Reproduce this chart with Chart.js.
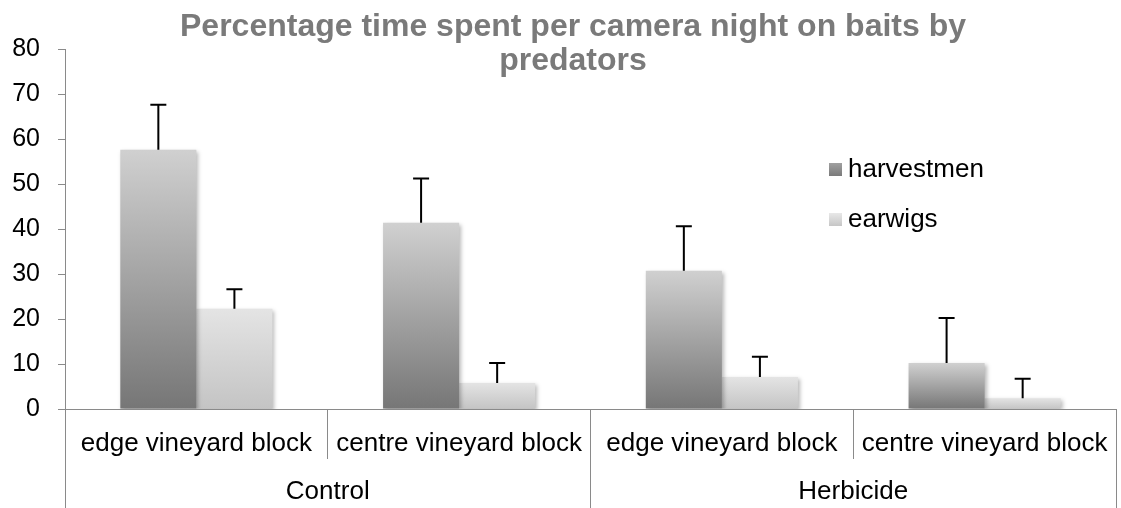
<!DOCTYPE html>
<html>
<head>
<meta charset="utf-8">
<script src="https://cdn.jsdelivr.net/npm/chart.js@4.4.1/dist/chart.umd.min.js"></script>
<style>
  html, body { margin: 0; padding: 0; background: #ffffff; }
  #wrap { width: 1121px; height: 508px; position: relative; }
</style>
</head>
<body>
<div id="wrap"><canvas id="c" width="1121" height="508"></canvas></div>
<script>
// ---- data ----
const titleLines = ['Percentage time spent per camera night on baits by', 'predators'];
const categories = ['edge vineyard block', 'centre vineyard block', 'edge vineyard block', 'centre vineyard block'];
const groups = ['Control', 'Herbicide'];
const seriesNames = ['harvestmen', 'earwigs'];
const harvestmen = [57.6, 41.4, 30.7, 10.2];
const harvestmenErr = [10.0, 9.8, 9.9, 10.0];
const earwigs = [22.3, 5.8, 7.1, 2.4];
const earwigsErr = [4.3, 4.4, 4.5, 4.3];
const yTicks = [0, 10, 20, 30, 40, 50, 60, 70, 80];

// ---- styles ----
const FONT = "'Liberation Sans', Arial, sans-serif";
const AXIS = '#8a8a8a';
const grads = [
  { light: '#d0d0d0', dark: '#767676' },
  { light: '#e4e4e4', dark: '#c4c4c4' }
];
const errs = [harvestmenErr, earwigsErr];

function barGradient(i) {
  return function (ctx) {
    const chart = ctx.chart;
    if (!chart.chartArea || ctx.type !== 'data') return grads[i].dark;
    const y = chart.scales.y;
    const top = y.getPixelForValue(ctx.raw);
    const bottom = y.getPixelForValue(0);
    const g = chart.ctx.createLinearGradient(0, top, 0, bottom);
    g.addColorStop(0, grads[i].light);
    g.addColorStop(1, grads[i].dark);
    return g;
  };
}

const shadowPlugin = {
  id: 'shadow',
  beforeDatasetsDraw(chart) {
    const c = chart.ctx;
    c.save();
    c.shadowColor = 'rgba(0,0,0,0.28)';
    c.shadowBlur = 4;
    c.shadowOffsetX = 2;
    c.shadowOffsetY = 2;
  },
  afterDatasetsDraw(chart) {
    chart.ctx.restore();
  }
};

const errorBarPlugin = {
  id: 'errorBars',
  afterDatasetsDraw(chart) {
    const c = chart.ctx;
    const y = chart.scales.y;
    c.save();
    c.strokeStyle = '#000000';
    c.lineWidth = 2;
    chart.data.datasets.forEach((ds, i) => {
      const meta = chart.getDatasetMeta(i);
      meta.data.forEach((bar, j) => {
        const v = ds.data[j];
        const yTop = y.getPixelForValue(v + errs[i][j]);
        const yBar = y.getPixelForValue(v);
        c.beginPath();
        c.moveTo(bar.x, yBar);
        c.lineTo(bar.x, yTop);
        c.moveTo(bar.x - 8, yTop);
        c.lineTo(bar.x + 8, yTop);
        c.stroke();
      });
    });
    c.restore();
  }
};

const titlePlugin = {
  id: 'customTitle',
  afterDraw(chart) {
    const c = chart.ctx;
    c.save();
    c.fillStyle = '#7a7a7a';
    c.font = 'bold 32px ' + FONT;
    c.textAlign = 'center';
    c.textBaseline = 'alphabetic';
    c.fillText(titleLines[0], 573, 36);
    c.fillText(titleLines[1], 573, 70);
    c.restore();
  }
};

const legendPlugin = {
  id: 'customLegend',
  afterDraw(chart) {
    const c = chart.ctx;
    c.save();
    c.font = '26px ' + FONT;
    c.textAlign = 'left';
    c.textBaseline = 'alphabetic';
    const rows = [{ y: 177 }, { y: 227 }];
    seriesNames.forEach((name, i) => {
      const by = rows[i].y;
      const sx = 829, sy = by - 14, s = 13;
      const g = c.createLinearGradient(0, sy, 0, sy + s);
      g.addColorStop(0, grads[i].dark === '#767676' ? '#a0a0a0' : '#e8e8e8');
      g.addColorStop(1, grads[i].dark === '#767676' ? '#7a7a7a' : '#c6c6c6');
      c.fillStyle = g;
      c.fillRect(sx, sy, s, s);
      c.fillStyle = '#000000';
      c.fillText(name, 848, by);
    });
    c.restore();
  }
};

new Chart(document.getElementById('c'), {
  type: 'bar',
  data: {
    labels: categories,
    datasets: [
      { label: seriesNames[0], data: harvestmen, backgroundColor: barGradient(0), borderWidth: 0 },
      { label: seriesNames[1], data: earwigs, backgroundColor: barGradient(1), borderWidth: 0 }
    ]
  },
  options: {
    responsive: false,
    animation: false,
    devicePixelRatio: 1,
    layout: { padding: { top: 49, right: 5, bottom: 0, left: 0 } },
    datasets: { bar: { categoryPercentage: 0.579, barPercentage: 1.0 } },
    plugins: {
      legend: { display: false },
      title: { display: false },
      tooltip: { enabled: false }
    },
    scales: {
      x: {
        type: 'category',
        position: 'bottom',
        weight: 0,
        offset: true,
        grid: { offset: true, drawOnChartArea: false, drawTicks: true, tickLength: 50, color: AXIS, tickColor: AXIS, lineWidth: 1 },
        border: { display: true, color: AXIS, width: 1 },
        ticks: { color: '#000000', font: { family: FONT, size: 26 }, padding: -31, maxRotation: 0, autoSkip: false },
        afterFit(scale) { scale.height = 50; }
      },
      x2: {
        type: 'category',
        position: 'bottom',
        weight: 1,
        labels: groups,
        offset: true,
        grid: { offset: true, drawOnChartArea: false, drawTicks: true, tickLength: 49, color: AXIS, tickColor: AXIS, lineWidth: 1 },
        border: { display: false },
        ticks: { color: '#000000', font: { family: FONT, size: 26 }, padding: -31.5, maxRotation: 0, autoSkip: false },
        afterFit(scale) { scale.height = 49; }
      },
      y: {
        min: 0,
        max: 80,
        afterBuildTicks(scale) { scale.ticks = yTicks.map(v => ({ value: v })); },
        grid: { drawOnChartArea: false, drawTicks: true, tickLength: 7, color: AXIS, tickColor: AXIS },
        border: { display: true, color: AXIS, width: 1 },
        ticks: { color: '#000000', font: { family: FONT, size: 25 }, padding: 18 },
        afterFit(scale) { scale.width = 65; }
      }
    }
  },
  plugins: [shadowPlugin, errorBarPlugin, titlePlugin, legendPlugin]
});
</script>
</body>
</html>
